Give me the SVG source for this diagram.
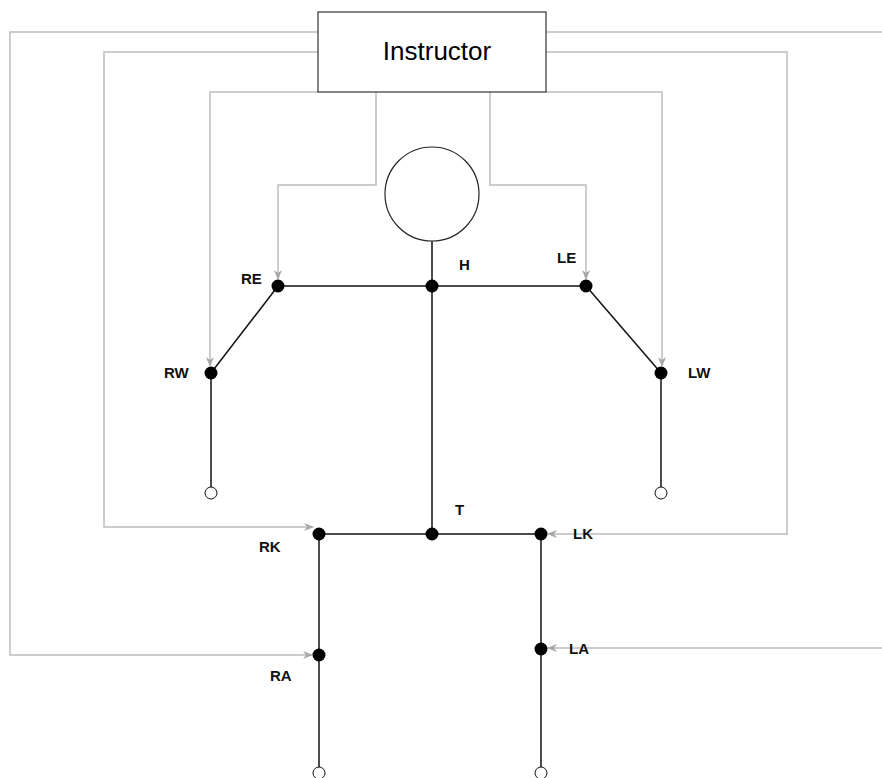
<svg xmlns="http://www.w3.org/2000/svg" width="882" height="778" viewBox="0 0 882 778">
  <style>
    .bone { stroke: #111; stroke-width: 1.5; fill: none; }
    .wire { stroke: #bdbdbd; stroke-width: 1.5; fill: none; }
    .joint { fill: #000; }
    .tip { fill: #fff; stroke: #111; stroke-width: 1; }
    .lbl { font-family: "Liberation Sans", Arial, sans-serif; font-size: 15px; font-weight: bold; fill: #111; }
    .title { font-family: "Liberation Sans", Arial, sans-serif; font-size: 26px; fill: #000; }
  </style>
  <defs>
    <marker id="arrow" viewBox="0 0 10 8" refX="9" refY="4" markerWidth="10" markerHeight="8" markerUnits="userSpaceOnUse" orient="auto">
      <path d="M0,0 L10,4 L0,8 L3,4 Z" fill="#a8a8a8"/>
    </marker>
  </defs>
  <rect width="882" height="778" fill="#fff"/>

  <!-- control wires from the instructor to each joint -->
  <g id="connectors">
    <polyline class="wire" points="318,32 10,32 10,655 312,655" marker-end="url(#arrow)"/>
    <polyline class="wire" points="546,32 882,32"/>
    <polyline class="wire" points="882,648 548,648" marker-end="url(#arrow)"/>
    <polyline class="wire" points="318,52 104,52 104,527 313,527" marker-end="url(#arrow)"/>
    <polyline class="wire" points="546,52 787,52 787,534 548,534" marker-end="url(#arrow)"/>
    <polyline class="wire" points="318,92 210,92 210,366" marker-end="url(#arrow)"/>
    <polyline class="wire" points="546,92 662,92 662,366" marker-end="url(#arrow)"/>
    <polyline class="wire" points="376,92 376,185 278,185 278,279" marker-end="url(#arrow)"/>
    <polyline class="wire" points="490,92 490,185 586,185 586,279" marker-end="url(#arrow)"/>

    <!-- skeleton -->
    <line class="bone" x1="432" y1="241" x2="432" y2="534"/>
    <line class="bone" x1="278" y1="286" x2="586" y2="286"/>
    <line class="bone" x1="278" y1="286" x2="211" y2="373" stroke="#444"/>
    <line class="bone" x1="586" y1="286" x2="661" y2="373" stroke="#444"/>
    <line class="bone" x1="211" y1="373" x2="211" y2="487"/>
    <line class="bone" x1="661" y1="373" x2="661" y2="487"/>
    <line class="bone" x1="319" y1="534" x2="541" y2="534"/>
    <line class="bone" x1="319" y1="534" x2="319" y2="767"/>
    <line class="bone" x1="541" y1="534" x2="541" y2="767"/>
  </g>

  <g id="instructor">
    <rect x="318" y="12" width="228" height="80" fill="#fff" stroke="#333" stroke-width="1.2"/>
    <text class="title" x="437" y="60" text-anchor="middle">Instructor</text>
  </g>

  <g id="head">
    <circle cx="432" cy="194" r="47" fill="#fff" stroke="#222" stroke-width="1.2"/>
  </g>

  <g id="H"><circle class="joint" cx="432" cy="286" r="6.5"/><text class="lbl" x="459" y="270">H</text></g>
  <g id="RE"><circle class="joint" cx="278" cy="286" r="6.5"/><text class="lbl" x="241" y="284">RE</text></g>
  <g id="LE"><circle class="joint" cx="586" cy="286" r="6.5"/><text class="lbl" x="557" y="263">LE</text></g>
  <g id="RW"><circle class="joint" cx="211" cy="373" r="6.5"/><text class="lbl" x="164" y="378">RW</text></g>
  <g id="LW"><circle class="joint" cx="661" cy="373" r="6.5"/><text class="lbl" x="688" y="378">LW</text></g>
  <g id="T"><circle class="joint" cx="432" cy="534" r="6.5"/><text class="lbl" x="455" y="515">T</text></g>
  <g id="RK"><circle class="joint" cx="319" cy="534" r="6.5"/><text class="lbl" x="259" y="552">RK</text></g>
  <g id="LK"><circle class="joint" cx="541" cy="534" r="6.5"/><text class="lbl" x="573" y="539">LK</text></g>
  <g id="RA"><circle class="joint" cx="319" cy="655" r="6.5"/><text class="lbl" x="270" y="681">RA</text></g>
  <g id="LA"><circle class="joint" cx="541" cy="649" r="6.5"/><text class="lbl" x="569" y="654">LA</text></g>

  <g id="RH-tip"><circle class="tip" cx="211" cy="493" r="6"/></g>
  <g id="LH-tip"><circle class="tip" cx="661" cy="493" r="6"/></g>
  <g id="RF-tip"><circle class="tip" cx="319" cy="773" r="6"/></g>
  <g id="LF-tip"><circle class="tip" cx="541" cy="773" r="6"/></g>
</svg>
